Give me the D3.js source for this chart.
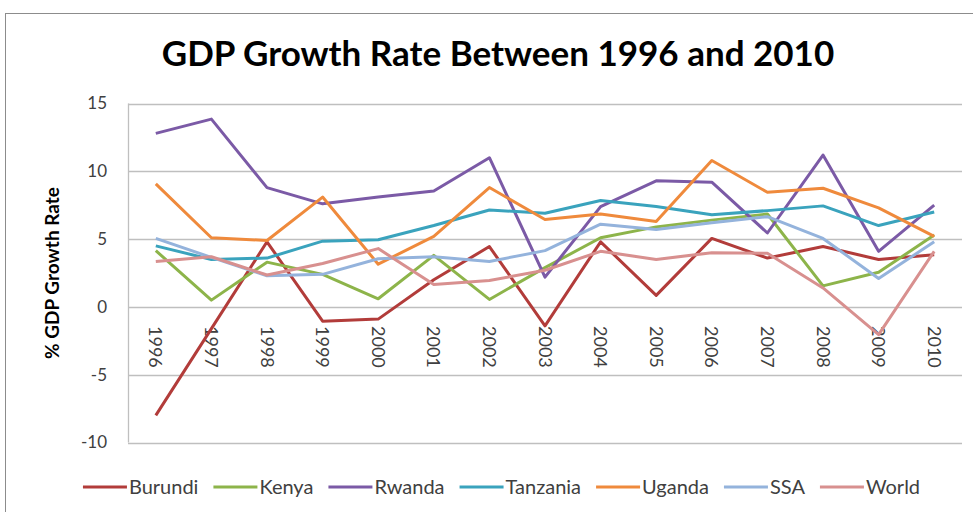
<!DOCTYPE html>
<html>
<head>
<meta charset="utf-8">
<script src="https://cdn.jsdelivr.net/npm/d3@7"></script>
<style>
  body { margin: 0; background: #fff; }
  text { font-family: Lato, "Open Sans", sans-serif; fill: #404040; }
</style>
</head>
<body>
<script>
var years = ["1996","1997","1998","1999","2000","2001","2002","2003","2004","2005","2006","2007","2008","2009","2010"];
var yTicks = [-10, -5, 0, 5, 10, 15];

var burundi  = [-8.0, -1.6, 4.8, -1.05, -0.9, 2.0, 4.45, -1.4, 4.8, 0.85, 5.05, 3.6, 4.45, 3.5, 3.85];
var kenya    = [4.15, 0.5, 3.3, 2.4, 0.6, 3.8, 0.55, 2.9, 5.1, 5.9, 6.4, 6.85, 1.55, 2.55, 5.3];
var rwanda   = [12.8, 13.85, 8.8, 7.6, 8.1, 8.55, 11.0, 2.2, 7.4, 9.3, 9.2, 5.45, 11.2, 4.1, 7.5];
var tanzania = [4.5, 3.5, 3.6, 4.85, 4.95, 6.0, 7.15, 6.9, 7.85, 7.4, 6.8, 7.1, 7.45, 6.0, 7.0];
var uganda   = [9.07, 5.1, 4.9, 8.1, 3.15, 5.2, 8.8, 6.45, 6.85, 6.3, 10.8, 8.45, 8.75, 7.3, 5.2];
var ssa      = [5.05, 3.65, 2.3, 2.4, 3.55, 3.7, 3.35, 4.15, 6.1, 5.7, 6.2, 6.65, 5.05, 2.1, 4.8];
var world    = [3.35, 3.7, 2.35, 3.2, 4.3, 1.65, 1.95, 2.7, 4.1, 3.5, 4.0, 3.95, 1.4, -2.05, 4.1];

var seriesNames = ["Burundi","Kenya","Rwanda","Tanzania","Uganda","SSA","World"];
var seriesValues = [burundi, kenya, rwanda, tanzania, uganda, ssa, world];
var colors = ["#b23c3a","#8db44a","#7b5aa6","#3aa3bd","#ef8a3c","#94b3dc","#d8908f"];

var width = 973, height = 512;
var svg = d3.select("body").append("svg")
            .attr("width", width)
            .attr("height", height);

// outer chart border
svg.append("rect")
   .attr("x", 5.5).attr("y", 13.5)
   .attr("width", 1000).attr("height", 600)
   .attr("fill", "none")
   .attr("stroke", "#8c8c8c");

svg.append("text")
   .attr("x", 498).attr("y", 66)
   .attr("text-anchor", "middle")
   .style("font-size", "35px")
   .style("font-weight", "bold")
   .style("fill", "#000")
   .text("GDP Growth Rate Between 1996 and 2010");

var x = d3.scaleBand().domain(years).range([128, 962]);
var y = d3.scaleLinear().domain([-10, 15]).range([442.5, 103.5]);

// gridlines
svg.append("g").selectAll("line")
   .data(yTicks)
   .enter().append("line")
   .attr("x1", 128).attr("x2", 962)
   .attr("y1", function(d) { return Math.round(y(d)) + 0.5; })
   .attr("y2", function(d) { return Math.round(y(d)) + 0.5; })
   .attr("stroke", "#bfbfbf")
   .attr("stroke-width", 1.3);

svg.append("line")
   .attr("x1", 128.5).attr("x2", 128.5)
   .attr("y1", y(15)).attr("y2", y(-10))
   .attr("stroke", "#bfbfbf")
   .attr("stroke-width", 1.3);

// y labels
svg.append("g").selectAll("text")
   .data(yTicks)
   .enter().append("text")
   .attr("x", 107)
   .attr("y", function(d) { return y(d); })
   .attr("dy", "0.35em")
   .attr("text-anchor", "end")
   .style("font-size", "17px")
   .text(function(d) { return d; });

// x labels, rotated
svg.append("g").selectAll("text")
   .data(years)
   .enter().append("text")
   .attr("transform", function(d) { return "translate(" + (x(d) + x.bandwidth() / 2) + ",326) rotate(90)"; })
   .attr("dy", "0.35em")
   .style("font-size", "18px")
   .text(function(d) { return d; });

svg.append("text")
   .attr("transform", "translate(52,273) rotate(-90)")
   .attr("text-anchor", "middle")
   .attr("dy", "0.35em")
   .style("font-size", "19px")
   .style("font-weight", "bold")
   .style("fill", "#000")
   .text("% GDP Growth Rate");

var line = d3.line()
   .x(function(d, i) { return x(years[i]) + x.bandwidth() / 2; })
   .y(function(d) { return y(d); });

svg.append("g").selectAll("path")
   .data(seriesValues)
   .enter().append("path")
   .attr("d", line)
   .attr("fill", "none")
   .attr("stroke", function(d, i) { return colors[i]; })
   .attr("stroke-width", 3)
   .attr("stroke-linejoin", "round");

// legend
var legend = svg.append("g");
var items = legend.selectAll("g")
   .data(seriesNames)
   .enter().append("g");
items.append("line")
   .attr("x1", 0).attr("x2", 44)
   .attr("y1", 487).attr("y2", 487)
   .attr("stroke", function(d, i) { return colors[i]; })
   .attr("stroke-width", 3);
items.append("text")
   .attr("x", 46).attr("y", 487)
   .attr("dy", "0.35em")
   .style("font-size", "20px")
   .text(function(d) { return d; });

var pos = 0;
items.each(function() {
  var w = d3.select(this).select("text").node().getComputedTextLength();
  d3.select(this).attr("transform", "translate(" + pos + ",0)");
  pos += 46 + w + 15;
});
var total = pos - 15;
legend.attr("transform", "translate(" + (501.5 - total / 2) + ",0)");
</script>
</body>
</html>
